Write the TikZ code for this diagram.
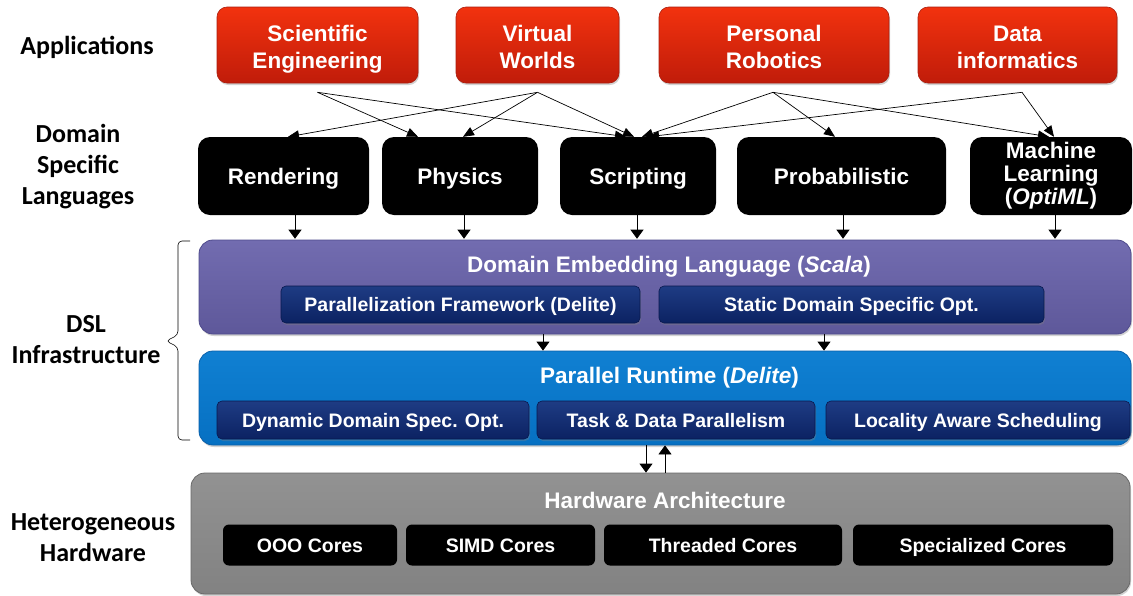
\documentclass[tikz,border=0pt]{standalone}
\usepackage{fontspec}
\setmainfont{Liberation Sans}
\newfontfamily\calibfont{Carlito}
\usetikzlibrary{arrows.meta,shadows}

\definecolor{appTop}{RGB}{242,50,14}
\definecolor{appBot}{RGB}{192,28,10}
\definecolor{appEdge}{RGB}{170,30,15}
\definecolor{embTop}{RGB}{114,108,176}
\definecolor{embBot}{RGB}{94,88,154}
\definecolor{embEdge}{RGB}{78,74,140}
\definecolor{navyTop}{RGB}{30,60,132}
\definecolor{navyBot}{RGB}{12,34,98}
\definecolor{navyEdge}{RGB}{8,24,78}
\definecolor{rtTop}{RGB}{16,128,210}
\definecolor{rtBot}{RGB}{6,112,194}
\definecolor{rtEdge}{RGB}{10,96,170}
\definecolor{hwTop}{RGB}{146,146,146}
\definecolor{hwBot}{RGB}{130,130,130}
\definecolor{hwEdge}{RGB}{105,105,105}

\begin{document}
\begin{tikzpicture}[x=1pt,y=-1pt,
  shade/.style={drop shadow={opacity=0.35,shadow xshift=1pt,shadow yshift=-2pt}},
  box/.style={rectangle,inner sep=0pt,align=center,text=white},
  bigtext/.style={font=\bfseries\fontsize{22.5}{27}\selectfont},
  smalltext/.style={font=\bfseries\fontsize{19.5}{23}\selectfont},
  oneline/.style={text height=#1,text depth=0pt},
  app/.style={box,bigtext,rounded corners=10pt,top color=appTop,bottom color=appBot,
    draw=appEdge,line width=0.6pt,shade,minimum height=76pt,text height=47pt,text depth=0pt},
  dsl/.style={box,bigtext,rounded corners=12pt,fill=black,minimum height=78pt},
  layer/.style={box,rounded corners=14pt,line width=0.8pt,shade},
  navybox/.style={box,smalltext,oneline=14pt,rounded corners=5pt,top color=navyTop,bottom color=navyBot,
    draw=navyEdge,line width=0.6pt,shade},
  corebox/.style={box,smalltext,oneline=14pt,rounded corners=6pt,fill=black,minimum height=41pt},
  title/.style={text=white,anchor=base,inner sep=0pt,bigtext},
  sidelabel/.style={align=center,inner sep=0pt,font=\calibfont\bfseries\fontsize{26}{31}\selectfont},
  appline/.style={line width=0.7pt,-{Triangle[width=9pt,length=11pt]}},
  downarr/.style={line width=0.8pt,-{Triangle[width=13pt,length=9pt]}}
]
\fill[white] (0,0) rectangle (1133,595);
\useasboundingbox (0,0) rectangle (1133,595);

% ---- left-hand level labels
\node[sidelabel] (lapp) at (87,47) {Applications};
\node[sidelabel] (ldsl) at (78,167) {Domain\\Specific\\Languages};
\node[sidelabel] (linf) at (86,340) {DSL\\Infrastructure};
\node[sidelabel] (lhw) at (93,538) {Heterogeneous\\Hardware};

% brace grouping the two infrastructure layers
\draw[line width=0.6pt,rounded corners=4pt]
  (190,241) -- (178,241) -- (178,335) -- (166,341) -- (178,347) -- (178,440) -- (190,440);

% ---- applications
\node[app,minimum width=201pt] (sci) at (317.5,45) {Scientific\\Engineering};
\node[app,minimum width=163pt] (vw)  at (537.5,45) {Virtual\\Worlds};
\node[app,minimum width=230pt] (pr)  at (774,45)   {Personal\\Robotics};
\node[app,minimum width=199pt] (di)  at (1017.5,45) {Data\\informatics};

% ---- domain specific languages
\node[dsl,oneline=16pt,minimum width=171pt] (ren) at (283.5,176) {Rendering};
\node[dsl,oneline=16pt,minimum width=156pt] (phy) at (460,176)   {Physics};
\node[dsl,oneline=16pt,minimum width=156pt] (scr) at (638,176)   {Scripting};
\node[dsl,oneline=16pt,minimum width=209pt] (pro) at (841.5,176) {Probabilistic};
\node[dsl,minimum width=162pt,font=\bfseries\fontsize{22.5}{23}\selectfont] (ml) at (1051,176)
  {Machine\\Learning\\(\textit{OptiML})};

% fan-out points below the application boxes
\coordinate (sciO) at ([yshift=-9pt]sci.south);
\coordinate (vwO)  at ([yshift=-9pt]vw.south);
\coordinate (prO)  at ([yshift=-9pt,xshift=-1pt]pr.south);
\coordinate (diO)  at ([yshift=-9pt,xshift=4.5pt]di.south);

\draw[appline] (sciO) -- ([xshift=-42pt]phy.north);
\draw[appline] (sciO) -- ([xshift=-12pt]scr.north);
\draw[appline] (vwO) -- ([xshift=4.5pt]ren.north);
\draw[appline] (vwO) -- ([xshift=3pt]phy.north);
\draw[appline] (vwO) -- ([xshift=-4pt]scr.north);
\draw[appline] (prO) -- ([xshift=4pt]scr.north);
\draw[appline] (prO) -- ([xshift=-6.5pt]pro.north);
\draw[appline] (prO) -- ([xshift=-2pt]ml.north);
\draw[appline] (diO) -- ([xshift=10pt]scr.north);
\draw[appline] (diO) -- ([xshift=3pt]ml.north);

% ---- domain embedding language layer
\node[layer,top color=embTop,bottom color=embBot,draw=embEdge,
  minimum width=932pt,minimum height=94pt] (emb) at (665,287) {};
\node[title] (embT) at (669,272) {Domain Embedding Language (\textit{Scala})};
\node[navybox,minimum width=359pt,minimum height=37pt] (pf) at (460.5,304.5)
  {Parallelization Framework (Delite)};
\node[navybox,minimum width=385pt,minimum height=37pt] (sd) at (851.5,304.5)
  {Static Domain Specific Opt.};

% ---- parallel runtime layer
\node[layer,top color=rtTop,bottom color=rtBot,draw=rtEdge,
  minimum width=932pt,minimum height=94pt] (rt) at (665,398) {};
\node[title] (rtT) at (669.5,383) {Parallel Runtime (\textit{Delite})};
\node[navybox,minimum width=312pt,minimum height=38pt] (dd) at (373,420)
  {Dynamic Domain Spec. Opt.};
\node[navybox,minimum width=278pt,minimum height=38pt] (td) at (676,420)
  {Task \& Data Parallelism};
\node[navybox,minimum width=304pt,minimum height=38pt] (la) at (978,420)
  {Locality Aware Scheduling};

% ---- hardware layer
\node[layer,top color=hwTop,bottom color=hwBot,draw=hwEdge,
  minimum width=939pt,minimum height=121pt] (hw) at (660.5,533.5) {};
\node[title] (hwT) at (665,508) {Hardware Architecture};
\node[corebox,minimum width=174pt] (ooo)  at (310,545)   {OOO Cores};
\node[corebox,minimum width=189pt] (simd) at (500.5,545) {SIMD Cores};
\node[corebox,minimum width=238pt] (thr)  at (723,545)   {Threaded Cores};
\node[corebox,minimum width=260pt] (spc)  at (983,545)   {Specialized Cores};

% ---- vertical flow between levels
\draw[downarr] ([xshift=11.5pt]ren.south) -- ++(0,23.5);
\draw[downarr] ([xshift=4pt]phy.south) -- ++(0,23.5);
\draw[downarr] ([xshift=-1pt]scr.south) -- ++(0,23.5);
\draw[downarr] ([xshift=1.5pt]pro.south) -- ++(0,23.5);
\draw[downarr] ([xshift=4pt]ml.south) -- ++(0,23.5);

\draw[downarr] ([xshift=-122pt]emb.south) -- ([xshift=-122pt]rt.north);
\draw[downarr] ([xshift=159pt]emb.south) -- ([xshift=159pt]rt.north);

\draw[downarr] ([xshift=-19pt]rt.south) -- ([xshift=-14.5pt]hw.north);
\draw[downarr] ([xshift=4.5pt]hw.north) -- ([xshift=0pt]rt.south);
\end{tikzpicture}
\end{document}
